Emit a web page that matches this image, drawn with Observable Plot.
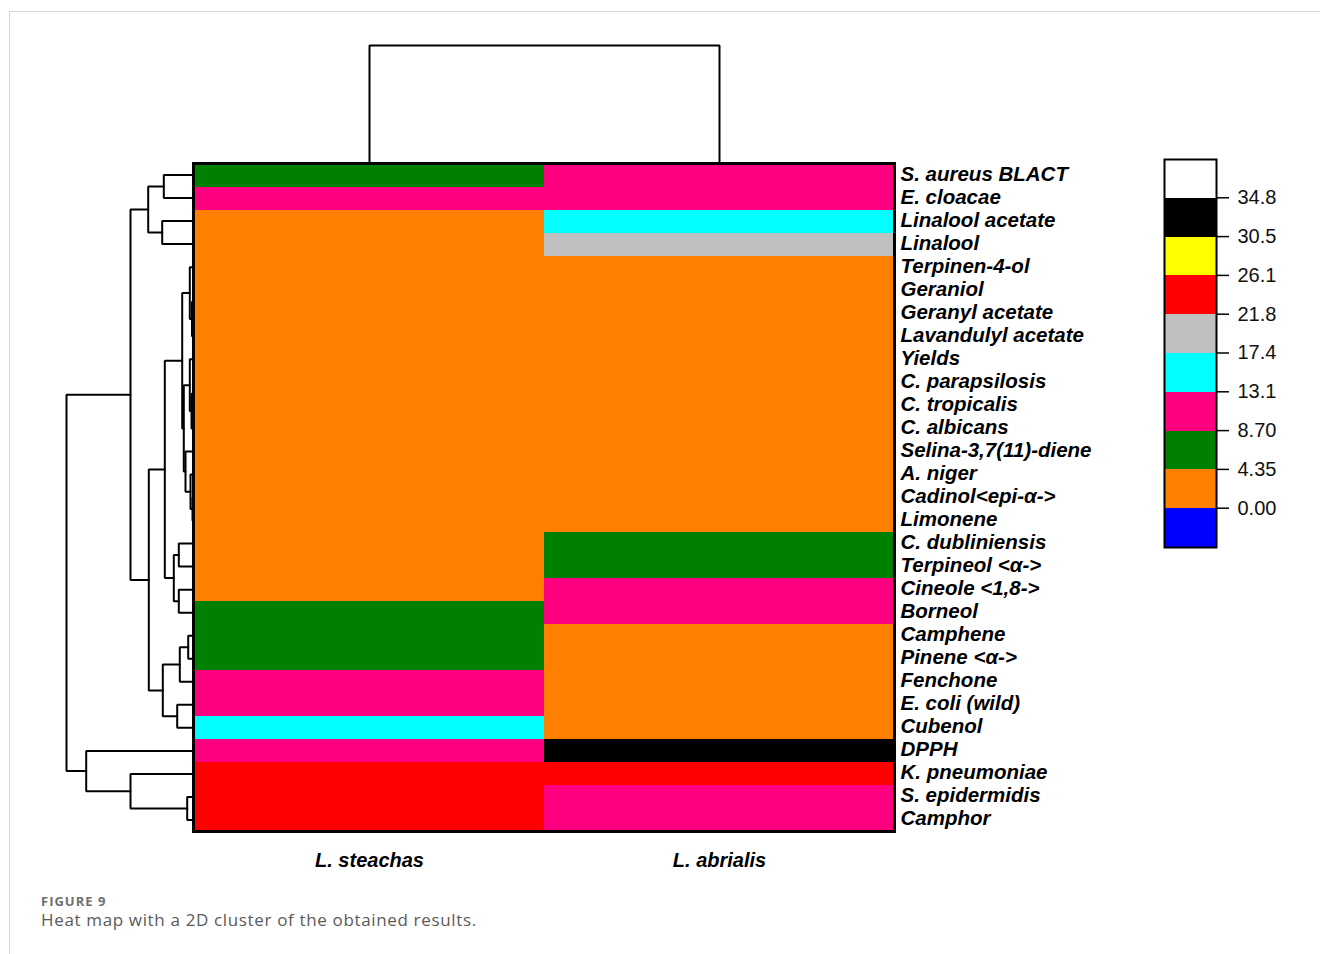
<!DOCTYPE html>
<html><head><meta charset="utf-8">
<script src="https://cdn.jsdelivr.net/npm/d3@7"></script>
<script src="https://cdn.jsdelivr.net/npm/@observablehq/plot@0.6"></script>
<style>
html,body{margin:0;padding:0;background:#fff;}
#wrap{position:relative;width:1320px;height:954px;overflow:hidden;}
#wrap svg, #wrap svg text{font-family:"Liberation Sans", Arial, sans-serif !important;}
#frame{position:absolute;left:9px;top:11px;width:1400px;height:1000px;border-top:1.5px solid #d6d6d6;border-left:1.5px solid #d6d6d6;}
#cap1{position:absolute;left:41px;top:894px;font:bold 13px "Open Sans",sans-serif;line-height:14px;letter-spacing:1px;color:#6f6f6f;white-space:nowrap;}
#cap2{position:absolute;left:41px;top:911px;font:17px "Open Sans",sans-serif;line-height:18px;letter-spacing:0.65px;color:#5a5a5a;white-space:nowrap;}
</style></head>
<body><div id="wrap"><div id="frame"></div>
<div id="cap1">FIGURE 9</div>
<div id="cap2">Heat map with a 2D cluster of the obtained results.</div>
</div>
<script>
// ---------- data ----------
const columns = ["L. steachas", "L. abrialis"];
const rows = ["S. aureus BLACT","E. cloacae","Linalool acetate","Linalool","Terpinen-4-ol","Geraniol",
  "Geranyl acetate","Lavandulyl acetate","Yields","C. parapsilosis","C. tropicalis","C. albicans",
  "Selina-3,7(11)-diene","A. niger","Cadinol<epi-α->","Limonene","C. dubliniensis","Terpineol <α->",
  "Cineole <1,8->","Borneol","Camphene","Pinene <α->","Fenchone","E. coli (wild)","Cubenol","DPPH",
  "K. pneumoniae","S. epidermidis","Camphor"];
const steachas = [6.5,10.0,2.1,1.8,0.9,0.4,0.5,0.8,1.1,0.6,0.7,0.9,0.3,0.5,0.2,0.3,2.5,3.2,3.0,5.0,7.2,6.8,9.5,11.0,14.0,9.2,24.0,23.5,25.0];
const abrialis = [10.5,11.0,15.2,19.6,1.2,0.6,0.7,0.5,1.4,0.9,1.0,0.8,1.6,1.3,0.9,1.0,6.0,5.5,9.8,11.5,2.0,2.8,2.2,3.5,3.0,32.0,22.5,12.0,10.5];
// row dendrogram merges (hclust style: negative = leaf row number, positive = earlier merge), height
const rowMerges = [
  [-1,-2,2.97],[-3,-4,3.13],[1,2,4.53],
  [-6,-7,0.05],[4,-8,0.15],[-5,5,0.37],
  [-10,-11,0.05],[7,-12,0.20],[-9,8,0.37],
  [-15,-16,0.10],[-14,10,0.30],[-13,11,0.80],
  [9,12,0.97],[6,13,1.13],
  [-17,-18,1.47],[-19,-20,1.47],[15,16,1.97],[14,17,2.87],
  [-21,-22,0.53],[19,-23,1.37],[-24,-25,1.63],[20,21,3.07],
  [18,22,4.47],[3,23,6.30],
  [-28,-29,0.63],[-27,25,6.30],[-26,26,10.73],
  [24,27,12.70]
];
const columnMergeHeight = 11.8;
const thresholds = [0, 4.35, 8.70, 13.1, 17.4, 21.8, 26.1, 30.5, 34.8];
const thresholdLabels = ["0.00","4.35","8.70","13.1","17.4","21.8","26.1","30.5","34.8"];
const binColors = ["#0000ff","#ff8000","#008000","#ff0080","#00ffff","#c0c0c0","#ff0000","#ffff00","#000000","#ffffff"];

// ---------- derived tables ----------
const cells = rows.flatMap((r, i) => [
  {row: r, col: columns[0], value: steachas[i]},
  {row: r, col: columns[1], value: abrialis[i]}
]);
const nodes = [];
const rowPaths = [];
const pos = k => k < 0 ? {y: -k - 1 + 0.5, h: 0} : nodes[k - 1];
rowMerges.forEach(([a, b, h], j) => {
  const A = pos(a), B = pos(b);
  nodes.push({y: (A.y + B.y) / 2, h});
  rowPaths.push({id: j, h: A.h, y: A.y}, {id: j, h, y: A.y}, {id: j, h, y: B.y}, {id: j, h: B.h, y: B.y});
});
const colPath = [
  {col: columns[0], h: 0}, {col: columns[0], h: columnMergeHeight},
  {col: columns[1], h: columnMergeHeight}, {col: columns[1], h: 0}
];
const legendBins = binColors.map((c, i) => ({i, c}));

// ---------- layout ----------
const W = 1320, H = 880;
const hmL = 193, hmR = 894, hmT = 163, hmB = 831;
const FF = "'Liberation Sans', Arial, sans-serif";
const baseStyle = {background: "transparent", overflow: "visible", fontFamily: FF, maxWidth: "none"};
const wrap = document.getElementById("wrap");
function add(svg){ svg.style.position = "absolute"; svg.style.left = "0px"; svg.style.top = "0px"; wrap.appendChild(svg); }

// heatmap
add(Plot.plot({
  width: W, height: H,
  marginLeft: hmL, marginRight: W - hmR, marginTop: hmT, marginBottom: H - hmB,
  style: baseStyle,
  x: {type: "band", domain: columns, padding: 0, label: null},
  y: {type: "band", domain: rows, padding: 0, label: null},
  color: {type: "threshold", domain: thresholds, range: binColors},
  marks: [
    Plot.cell(cells, {x: "col", y: "row", fill: "value", shapeRendering: "crispEdges"}),
    Plot.frame({stroke: "black", strokeWidth: 3}),
    Plot.axisY({anchor: "right", tickSize: 0, tickPadding: 6, dy: -1.5, label: null, fontFamily: FF, fontSize: 20.5, fontWeight: "bold", fontStyle: "italic", fill: "black"}),
    Plot.axisX({anchor: "bottom", tickSize: 0, tickPadding: 21, label: null, fontFamily: FF, fontSize: 20, fontWeight: "bold", fontStyle: "italic", fill: "black"})
  ]
}));

// row dendrogram
add(Plot.plot({
  width: W, height: H,
  marginLeft: 66, marginRight: W - hmL, marginTop: hmT, marginBottom: H - hmB,
  style: baseStyle,
  x: {domain: [d3.max(rowMerges, d => d[2]), 0], axis: null},
  y: {domain: [0, rows.length], reverse: true, axis: null},
  marks: [
    Plot.line(rowPaths, {x: "h", y: "y", z: "id", stroke: "black", strokeWidth: 2, strokeLinejoin: "miter"})
  ]
}));

// column dendrogram
add(Plot.plot({
  width: W, height: H,
  marginLeft: hmL, marginRight: W - hmR, marginTop: 45, marginBottom: H - hmT,
  style: baseStyle,
  x: {type: "point", domain: columns, padding: 0.5, axis: null},
  y: {domain: [0, columnMergeHeight], axis: null},
  marks: [
    Plot.line(colPath, {x: "col", y: "h", stroke: "black", strokeWidth: 2, strokeLinejoin: "miter"})
  ]
}));

// colour key
add(Plot.plot({
  width: W, height: H,
  marginLeft: 1164, marginRight: W - 1216, marginTop: 159, marginBottom: H - 547,
  style: baseStyle,
  x: {domain: [0, 1], axis: null},
  y: {domain: [0, binColors.length], label: null},
  color: {type: "identity"},
  marks: [
    Plot.rect(legendBins, {x1: 0, x2: 1, y1: "i", y2: d => d.i + 1, fill: "c", shapeRendering: "crispEdges"}),
    Plot.frame({stroke: "black", strokeWidth: 2}),
    Plot.axisY({anchor: "right", ticks: d3.range(1, binColors.length), tickFormat: i => thresholdLabels[i - 1],
      tickSize: 12, tickPadding: 9, dy: -0.5, label: null, fontFamily: FF, fontSize: 20, fill: "#111", strokeWidth: 1.5})
  ]
}));
</script></body></html>
